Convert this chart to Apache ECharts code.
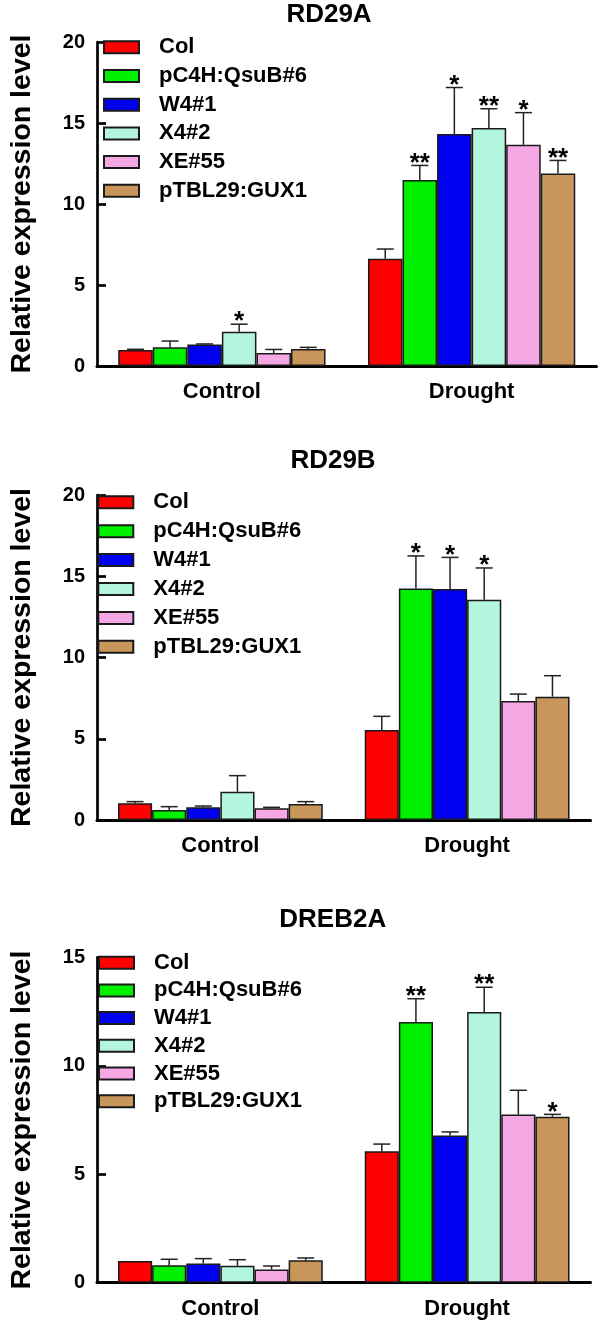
<!DOCTYPE html>
<html>
<head>
<meta charset="utf-8">
<script src="https://cdn.jsdelivr.net/npm/echarts@6/dist/echarts.min.js"></script>
<style>
  html, body { margin: 0; padding: 0; background: #fff; }
  #chart { width: 598px; height: 1321px; }
</style>
</head>
<body>
<div id="chart"></div>
<script>
// ---------- data ----------
const categories = ['Control', 'Drought'];
const genotypes = ['Col', 'pC4H:QsuB#6', 'W4#1', 'X4#2', 'XE#55', 'pTBL29:GUX1'];
const panelTitles = ['RD29A', 'RD29B', 'DREB2A'];
const yTicksMax = [20, 20, 15];

// RD29A
const rd29aControl = [0.98, 1.15, 1.33, 2.11, 0.80, 1.05];
const rd29aControlErr = [0.05, 0.39, 0.03, 0.47, 0.22, 0.10];
const rd29aControlSig = ['', '', '', '*', '', ''];
const rd29aDrought = [6.62, 11.48, 14.32, 14.69, 13.65, 11.89];
const rd29aDroughtErr = [0.60, 0.90, 2.87, 1.19, 1.99, 0.80];
const rd29aDroughtSig = ['', '**', '*', '**', '*', '**'];

// RD29B
const rd29bControl = [1.03, 0.62, 0.78, 1.74, 0.72, 0.98];
const rd29bControlErr = [0.10, 0.20, 0.08, 0.99, 0.06, 0.15];
const rd29bControlSig = ['', '', '', '', '', ''];
const rd29bDrought = [5.54, 14.24, 14.22, 13.56, 7.32, 7.59];
const rd29bDroughtErr = [0.84, 2.01, 1.94, 1.95, 0.43, 1.29];
const rd29bDroughtSig = ['', '*', '*', '*', '', ''];

// DREB2A
const dreb2aControl = [1.00, 0.81, 0.89, 0.78, 0.61, 1.03];
const dreb2aControlErr = [0.00, 0.27, 0.22, 0.28, 0.16, 0.11];
const dreb2aControlSig = ['', '', '', '', '', ''];
const dreb2aDrought = [6.06, 12.02, 6.78, 12.48, 7.75, 7.65];
const dreb2aDroughtErr = [0.33, 1.07, 0.17, 1.14, 1.12, 0.11];
const dreb2aDroughtSig = ['', '**', '', '**', '', '*'];

// ---------- styling / layout ----------
const colors = ['#ff0000', '#00f000', '#0000f0', '#b4f5de', '#f5a8e4', '#c8955a'];
const FONT = "'Liberation Sans', Arial, sans-serif";
const CAT_GAP = 0.17;

const panels = [
  { title: panelTitles[0], max: yTicksMax[0], means: [rd29aControl, rd29aDrought], errs: [rd29aControlErr, rd29aDroughtErr], sigs: [rd29aControlSig, rd29aDroughtSig],
    grid: { left: 82.5, top: 42, width: 514, height: 324 }, titlePos: [329, 15], legendTop: 36.3, legendLeft: 103, legendGap: 6.7 },
  { title: panelTitles[1], max: yTicksMax[1], means: [rd29bControl, rd29bDrought], errs: [rd29bControlErr, rd29bDroughtErr], sigs: [rd29bControlSig, rd29bDroughtSig],
    grid: { left: 76.5, top: 495, width: 514, height: 325 }, titlePos: [333, 461], legendTop: 491.3, legendLeft: 97.3, legendGap: 6.9 },
  { title: panelTitles[2], max: yTicksMax[2], means: [dreb2aControl, dreb2aDrought], errs: [dreb2aControlErr, dreb2aDroughtErr], sigs: [dreb2aControlSig, dreb2aDroughtSig],
    grid: { left: 76.5, top: 957.3, width: 514, height: 325.4 }, titlePos: [332.7, 920], legendTop: 951.7, legendLeft: 98, legendGap: 5.7 }
];

const grid = [], xAxis = [], yAxis = [], series = [], legend = [], graphic = [];

panels.forEach((p, pi) => {
  grid.push(Object.assign({ containLabel: false }, p.grid));
  xAxis.push({
    type: 'category', gridIndex: pi, data: categories,
    axisLine: { lineStyle: { color: '#000', width: 3 } },
    axisTick: { show: false },
    axisLabel: { color: '#000', fontFamily: FONT, fontWeight: 'bold', fontSize: 22, margin: 15 }
  });
  yAxis.push({
    type: 'value', gridIndex: pi, min: 0, max: p.max, interval: 5,
    name: 'Relative expression level', nameLocation: 'middle', nameGap: 60,
    nameTextStyle: { color: '#000', fontFamily: FONT, fontWeight: 'bold', fontSize: 28.5 },
    axisLine: { show: true, lineStyle: { color: '#000', width: 2.7 } },
    axisTick: { show: true, inside: true, length: 9, lineStyle: { color: '#000', width: 2.7 } },
    axisLabel: { color: '#000', fontFamily: FONT, fontWeight: 'bold', fontSize: 20, margin: 12 },
    splitLine: { show: false }
  });
  genotypes.forEach((g, gi) => {
    series.push({
      type: 'bar', name: g, xAxisIndex: pi, yAxisIndex: pi,
      data: [p.means[0][gi], p.means[1][gi]],
      barGap: '0%', barCategoryGap: (CAT_GAP * 100) + '%',
      itemStyle: { color: colors[gi], borderColor: '#1a1a1a', borderWidth: 1.5 },
      emphasis: { disabled: true },
      z: 2
    });
  });
  // error bars + significance marks
  const errData = [], sigList = [];
  [0, 1].forEach(ci => {
    genotypes.forEach((g, gi) => {
      errData.push([ci, gi, p.means[ci][gi], p.errs[ci][gi]]);
      sigList.push(p.sigs[ci][gi]);
    });
  });
  series.push({
    type: 'custom', xAxisIndex: pi, yAxisIndex: pi, z: 5, silent: true,
    encode: { x: 0, y: 2 },
    data: errData,
    renderItem: function (params, api) {
      const ci = api.value(0), gi = api.value(1), mean = api.value(2), err = api.value(3);
      const band = api.size([1, 0])[0];
      const w = band * (1 - CAT_GAP) / genotypes.length;
      const base = api.coord([ci, mean]);
      const top = api.coord([ci, mean + err]);
      const x = base[0] + (gi - (genotypes.length - 1) / 2) * w;
      const children = [];
      if (err > 0) {
        children.push({ type: 'line', shape: { x1: x, y1: base[1], x2: x, y2: top[1] }, style: { stroke: '#222', lineWidth: 1.5 } });
        children.push({ type: 'line', shape: { x1: x - 8.5, y1: top[1], x2: x + 8.5, y2: top[1] }, style: { stroke: '#222', lineWidth: 1.5 } });
      }
      const sig = sigList[params.dataIndex];
      if (sig) {
        children.push({ type: 'text', style: { text: sig, x: x, y: top[1] - 2, align: 'center', verticalAlign: 'middle', font: 'bold 26px ' + FONT, fill: '#000' } });
      }
      return { type: 'group', children: children };
    }
  });
  legend.push({
    data: genotypes, orient: 'vertical', left: p.legendLeft, top: p.legendTop,
    icon: 'rect',
    itemWidth: 35, itemHeight: 12, itemGap: p.legendGap, padding: 0,
    selectedMode: false,
    textStyle: { color: '#000', fontFamily: FONT, fontWeight: 'bold', fontSize: 22, lineHeight: 22, padding: [0, 0, 0, 15] }
  });
  graphic.push({
    type: 'text', x: p.titlePos[0], y: p.titlePos[1],
    style: { text: p.title, align: 'center', verticalAlign: 'middle', font: 'bold 26px ' + FONT, fill: '#000' }
  });
});

const chart = echarts.init(document.getElementById('chart'), null, { renderer: 'canvas' });
chart.setOption({
  animation: false,
  backgroundColor: '#fff',
  grid, xAxis, yAxis, series, legend, graphic
});
</script>
</body>
</html>
